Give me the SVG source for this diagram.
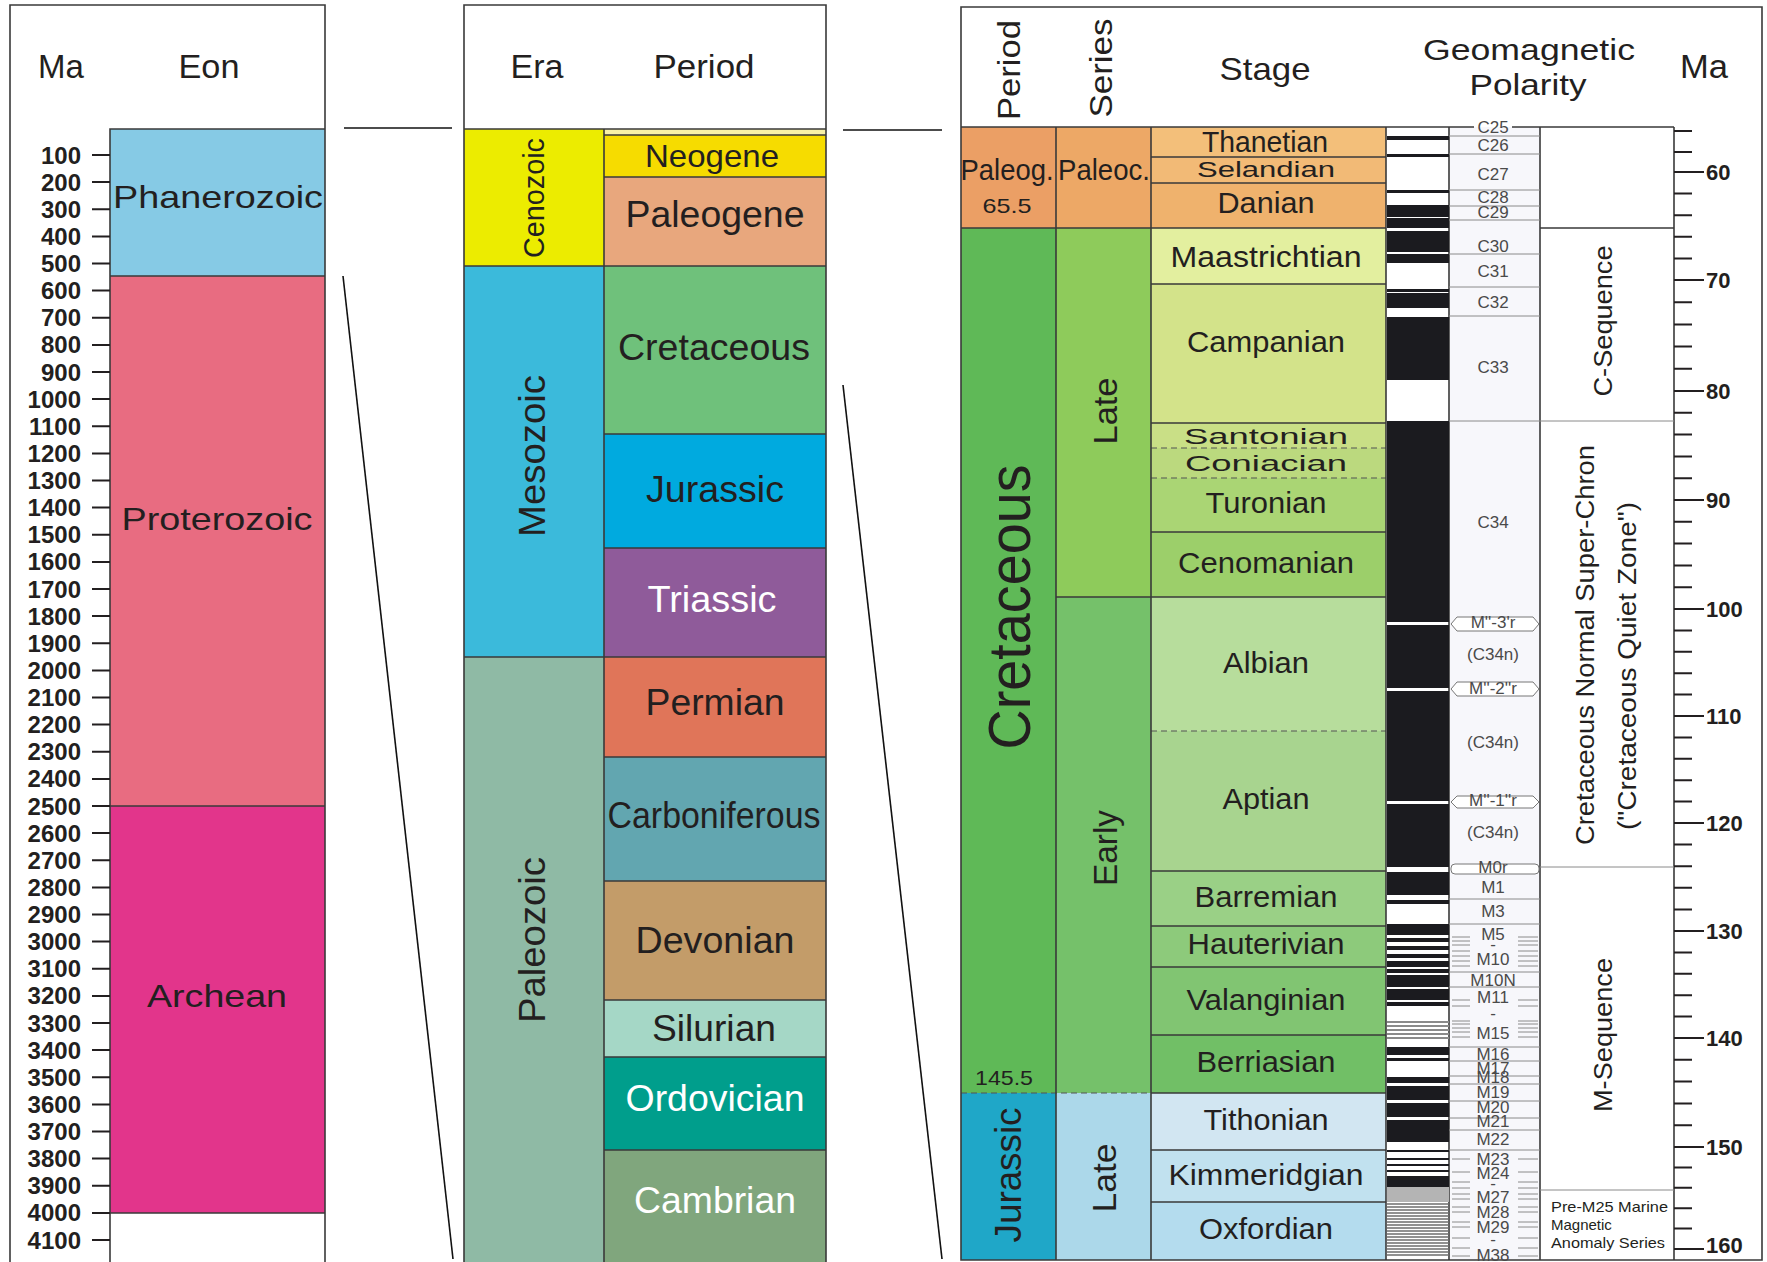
<svg xmlns="http://www.w3.org/2000/svg" width="1767" height="1262" viewBox="0 0 1767 1262">
<style>
.t{font-family:"Liberation Sans",Arial,Helvetica,sans-serif;fill:#231f20}
.wt{font-family:"Liberation Sans",Arial,Helvetica,sans-serif;fill:#ffffff}
.ln{stroke:#3a3a3a;stroke-width:1.6;fill:none}
.cb{stroke:#3a3a3a;stroke-width:1.3}
.dash{stroke:#555;stroke-width:1.2;stroke-dasharray:6 4;fill:none}
.tk{stroke:#231f20;stroke-width:2}
.num{font-family:"Liberation Sans",Arial,sans-serif;font-weight:bold;fill:#231f20;font-size:24px;text-anchor:end}
.ma{font-family:"Liberation Sans",Arial,sans-serif;font-weight:bold;fill:#231f20;font-size:22px}
.ch{font-family:"Liberation Sans",Arial,sans-serif;fill:#4a4a4a;font-size:17px;text-anchor:middle}
.cl{stroke:#8a8a8a;stroke-width:1;fill:none}
.blk{fill:#1b1b1f}
.gry{fill:#8a8a8a}
.con{stroke:#111;stroke-width:1.6;fill:none}
</style>

<!-- ================= PANEL 1 : EON ================= -->
<g id="eon-panel">
  <rect x="110" y="129" width="215" height="147" fill="#86cae5"/>
  <rect x="110" y="276" width="215" height="530" fill="#e86c81"/>
  <rect x="110" y="806" width="215" height="407" fill="#e2358b"/>
  <path class="ln" d="M10,1262 V5 H325 V1262"/>
  <path class="ln" d="M110,1262 V129 H325 M110,276 H325 M110,806 H325 M110,1213 H325"/>
  <text class="t" x="61" y="78" font-size="33" text-anchor="middle">Ma</text>
  <text class="t" x="209" y="78" font-size="33" text-anchor="middle" textLength="61" lengthAdjust="spacingAndGlyphs">Eon</text>
  <g id="node-phanerozoic"><text class="t" x="218" y="208" font-size="32" text-anchor="middle" textLength="210" lengthAdjust="spacingAndGlyphs">Phanerozoic</text></g>
  <g id="node-proterozoic"><text class="t" x="217" y="530" font-size="32" text-anchor="middle" textLength="191" lengthAdjust="spacingAndGlyphs">Proterozoic</text></g>
  <g id="node-archean"><text class="t" x="217" y="1007" font-size="32" text-anchor="middle" textLength="140" lengthAdjust="spacingAndGlyphs">Archean</text></g>
  <g id="eon-ticks">
    <path class="tk" d="M92,155H110M92,182.1H110M92,209.3H110M92,236.4H110M92,263.5H110M92,290.6H110M92,317.8H110M92,344.9H110M92,372H110M92,399.1H110M92,426.3H110M92,453.4H110M92,480.5H110M92,507.6H110M92,534.8H110M92,561.9H110M92,589H110M92,616.1H110M92,643.3H110M92,670.4H110M92,697.5H110M92,724.6H110M92,751.8H110M92,778.9H110M92,806H110M92,833.1H110M92,860.3H110M92,887.4H110M92,914.5H110M92,941.6H110M92,968.8H110M92,995.9H110M92,1023H110M92,1050.1H110M92,1077.3H110M92,1104.4H110M92,1131.5H110M92,1158.6H110M92,1185.8H110M92,1212.9H110M92,1240H110"/>
    <text class="num" x="81" y="163.5">100</text>
    <text class="num" x="81" y="190.6">200</text>
    <text class="num" x="81" y="217.8">300</text>
    <text class="num" x="81" y="244.9">400</text>
    <text class="num" x="81" y="272">500</text>
    <text class="num" x="81" y="299.1">600</text>
    <text class="num" x="81" y="326.3">700</text>
    <text class="num" x="81" y="353.4">800</text>
    <text class="num" x="81" y="380.5">900</text>
    <text class="num" x="81" y="407.6">1000</text>
    <text class="num" x="81" y="434.8">1100</text>
    <text class="num" x="81" y="461.9">1200</text>
    <text class="num" x="81" y="489">1300</text>
    <text class="num" x="81" y="516.1">1400</text>
    <text class="num" x="81" y="543.3">1500</text>
    <text class="num" x="81" y="570.4">1600</text>
    <text class="num" x="81" y="597.5">1700</text>
    <text class="num" x="81" y="624.6">1800</text>
    <text class="num" x="81" y="651.8">1900</text>
    <text class="num" x="81" y="678.9">2000</text>
    <text class="num" x="81" y="706">2100</text>
    <text class="num" x="81" y="733.1">2200</text>
    <text class="num" x="81" y="760.3">2300</text>
    <text class="num" x="81" y="787.4">2400</text>
    <text class="num" x="81" y="814.5">2500</text>
    <text class="num" x="81" y="841.6">2600</text>
    <text class="num" x="81" y="868.8">2700</text>
    <text class="num" x="81" y="895.9">2800</text>
    <text class="num" x="81" y="923">2900</text>
    <text class="num" x="81" y="950.1">3000</text>
    <text class="num" x="81" y="977.3">3100</text>
    <text class="num" x="81" y="1004.4">3200</text>
    <text class="num" x="81" y="1031.5">3300</text>
    <text class="num" x="81" y="1058.6">3400</text>
    <text class="num" x="81" y="1085.8">3500</text>
    <text class="num" x="81" y="1112.9">3600</text>
    <text class="num" x="81" y="1140">3700</text>
    <text class="num" x="81" y="1167.1">3800</text>
    <text class="num" x="81" y="1194.3">3900</text>
    <text class="num" x="81" y="1221.4">4000</text>
    <text class="num" x="81" y="1248.5">4100</text>
  </g>
</g>

<!-- ================= PANEL 2 : ERA / PERIOD ================= -->
<g id="era-panel">
  <rect x="464" y="129" width="140" height="137" fill="#ecec00"/>
  <rect x="464" y="266" width="140" height="391" fill="#3bbadb"/>
  <rect x="464" y="657" width="140" height="605" fill="#8fbaa5"/>
  <rect x="604" y="129" width="222" height="6" fill="#f8f1a6"/>
  <rect x="604" y="135" width="222" height="42" fill="#f6dc00"/>
  <rect x="604" y="177" width="222" height="89" fill="#e8a77d"/>
  <rect x="604" y="266" width="222" height="168" fill="#6fc17b"/>
  <rect x="604" y="434" width="222" height="114" fill="#00aadf"/>
  <rect x="604" y="548" width="222" height="109" fill="#8f5b9a"/>
  <rect x="604" y="657" width="222" height="100" fill="#e07559"/>
  <rect x="604" y="757" width="222" height="124" fill="#62a6b0"/>
  <rect x="604" y="881" width="222" height="119" fill="#c39c69"/>
  <rect x="604" y="1000" width="222" height="57" fill="#a5d7c6"/>
  <rect x="604" y="1057" width="222" height="93" fill="#009e8c"/>
  <rect x="604" y="1150" width="222" height="112" fill="#80a67d"/>
  <path class="ln" d="M464,1262 V5 H826 V1262 M464,129 H826 M604,129 V1262"/>
  <path class="cb" d="M604,135H826M604,177H826M464,266H826M604,434H826M604,548H826M464,657H826M604,757H826M604,881H826M604,1000H826M604,1057H826M604,1150H826"/>
  <text class="t" x="537" y="78" font-size="34" text-anchor="middle" textLength="53" lengthAdjust="spacingAndGlyphs">Era</text>
  <text class="t" x="704" y="78" font-size="34" text-anchor="middle" textLength="101" lengthAdjust="spacingAndGlyphs">Period</text>
  <g id="node-cenozoic"><text class="t" transform="translate(544,198) rotate(-90)" font-size="30" text-anchor="middle" textLength="120" lengthAdjust="spacingAndGlyphs">Cenozoic</text></g>
  <g id="node-mesozoic"><text class="t" transform="translate(545,456) rotate(-90)" font-size="37" text-anchor="middle" textLength="162" lengthAdjust="spacingAndGlyphs">Mesozoic</text></g>
  <g id="node-paleozoic"><text class="t" transform="translate(545,940) rotate(-90)" font-size="37" text-anchor="middle" textLength="166" lengthAdjust="spacingAndGlyphs">Paleozoic</text></g>
  <g id="node-neogene"><text class="t" x="712" y="167" font-size="32" text-anchor="middle" textLength="134" lengthAdjust="spacingAndGlyphs">Neogene</text></g>
  <g id="node-paleogene"><text class="t" x="715" y="227" font-size="37" text-anchor="middle" textLength="179" lengthAdjust="spacingAndGlyphs">Paleogene</text></g>
  <g id="node-cretaceous"><text class="t" x="714" y="360" font-size="37" text-anchor="middle" textLength="192" lengthAdjust="spacingAndGlyphs">Cretaceous</text></g>
  <g id="node-jurassic"><text class="t" x="715" y="502" font-size="37" text-anchor="middle" textLength="138" lengthAdjust="spacingAndGlyphs">Jurassic</text></g>
  <g id="node-triassic"><text class="wt" x="712" y="612" font-size="37" text-anchor="middle" textLength="129" lengthAdjust="spacingAndGlyphs">Triassic</text></g>
  <g id="node-permian"><text class="t" x="715" y="715" font-size="37" text-anchor="middle" textLength="139" lengthAdjust="spacingAndGlyphs">Permian</text></g>
  <g id="node-carboniferous"><text class="t" x="714" y="828" font-size="37" text-anchor="middle" textLength="213" lengthAdjust="spacingAndGlyphs">Carboniferous</text></g>
  <g id="node-devonian"><text class="t" x="715" y="953" font-size="37" text-anchor="middle" textLength="159" lengthAdjust="spacingAndGlyphs">Devonian</text></g>
  <g id="node-silurian"><text class="t" x="714" y="1041" font-size="37" text-anchor="middle" textLength="124" lengthAdjust="spacingAndGlyphs">Silurian</text></g>
  <g id="node-ordovician"><text class="wt" x="715" y="1111" font-size="37" text-anchor="middle" textLength="179" lengthAdjust="spacingAndGlyphs">Ordovician</text></g>
  <g id="node-cambrian"><text class="wt" x="715" y="1213" font-size="37" text-anchor="middle" textLength="162" lengthAdjust="spacingAndGlyphs">Cambrian</text></g>
</g>

<!-- ================= PANEL 3 : DETAIL ================= -->
<g id="detail-panel">
  <!-- period column -->
  <rect x="961" y="127" width="95" height="101" fill="#eb9f65"/>
  <rect x="961" y="228" width="95" height="865" fill="#5fb957"/>
  <rect x="961" y="1093" width="95" height="167" fill="#1fa7c8"/>
  <!-- series column -->
  <rect x="1056" y="127" width="95" height="101" fill="#eda866"/>
  <rect x="1056" y="228" width="95" height="369" fill="#8ecb5b"/>
  <rect x="1056" y="597" width="95" height="496" fill="#75c16a"/>
  <rect x="1056" y="1093" width="95" height="167" fill="#acd8ea"/>
  <!-- stage column -->
  <rect x="1151" y="127" width="235" height="30" fill="#f3bf7a"/>
  <rect x="1151" y="157" width="235" height="26" fill="#f2ba76"/>
  <rect x="1151" y="183" width="235" height="45" fill="#efb26d"/>
  <rect x="1151" y="228" width="235" height="56" fill="#e3ef9f"/>
  <rect x="1151" y="284" width="235" height="139" fill="#d3e38a"/>
  <rect x="1151" y="423" width="235" height="25" fill="#c9df86"/>
  <rect x="1151" y="448" width="235" height="30" fill="#bbd97e"/>
  <rect x="1151" y="478" width="235" height="54" fill="#aad574"/>
  <rect x="1151" y="532" width="235" height="65" fill="#9ccf6a"/>
  <rect x="1151" y="597" width="235" height="134" fill="#b7dd9c"/>
  <rect x="1151" y="731" width="235" height="140" fill="#a8d48f"/>
  <rect x="1151" y="871" width="235" height="55" fill="#9ad086"/>
  <rect x="1151" y="926" width="235" height="41" fill="#8dca7b"/>
  <rect x="1151" y="967" width="235" height="68" fill="#81c572"/>
  <rect x="1151" y="1035" width="235" height="58" fill="#71bf66"/>
  <rect x="1151" y="1093" width="235" height="57" fill="#d2e6f2"/>
  <rect x="1151" y="1150" width="235" height="52" fill="#c1e1ef"/>
  <rect x="1151" y="1202" width="235" height="58" fill="#b4dcee"/>
  <!-- polarity & chron columns -->
  <rect x="1386" y="127" width="63" height="1133" fill="#ffffff"/>
  <rect x="1449" y="127" width="91" height="1133" fill="#f7f7fb"/>
  <rect x="1540" y="127" width="134" height="1133" fill="#ffffff"/>

  <!-- stage borders -->
  <path class="cb" d="M1151,157H1386M1151,183H1386M961,228H1386M1151,284H1386M1151,423H1386M1151,532H1386M1056,597H1386M1151,871H1386M1151,926H1386M1151,967H1386M1151,1035H1386M1151,1150H1386M1151,1202H1386"/>
  <path class="dash" d="M1151,448H1386M1151,478H1386M1151,731H1386M961,1093H1151"/>
  <path class="cb" d="M1151,1093H1386"/>
  <path class="ln" d="M961,1260 V7 H1762 V1260 Z M961,127 H1449 M1056,127 V1260 M1151,127 V1260 M1386,127 V1260 M1449,127 V1260 M1540,127 V1260 M1674,127 V1260"/>
  <path class="ln" d="M1449,127 H1474 M1512,127 H1674 M1540,228 H1674"/>
  <path class="cl" d="M1449,421H1674M1540,867H1674M1540,1190H1674"/>

  <!-- header texts -->
  <text class="t" transform="translate(1020,70) rotate(-90)" font-size="32" text-anchor="middle" textLength="100" lengthAdjust="spacingAndGlyphs">Period</text>
  <text class="t" transform="translate(1112,68) rotate(-90)" font-size="32" text-anchor="middle" textLength="99" lengthAdjust="spacingAndGlyphs">Series</text>
  <text class="t" x="1265" y="80" font-size="32" text-anchor="middle" textLength="91" lengthAdjust="spacingAndGlyphs">Stage</text>
  <text class="t" x="1529" y="60" font-size="29" text-anchor="middle" textLength="212" lengthAdjust="spacingAndGlyphs">Geomagnetic</text>
  <text class="t" x="1528" y="95" font-size="29" text-anchor="middle" textLength="117" lengthAdjust="spacingAndGlyphs">Polarity</text>
  <text class="t" x="1704" y="78" font-size="33" text-anchor="middle" textLength="48" lengthAdjust="spacingAndGlyphs">Ma</text>

  <!-- period / series labels -->
  <g id="node-paleog"><text class="t" x="1007" y="180" font-size="30" text-anchor="middle" textLength="93" lengthAdjust="spacingAndGlyphs">Paleog.</text>
  <text class="t" x="1007" y="213" font-size="21" text-anchor="middle" textLength="49" lengthAdjust="spacingAndGlyphs">65.5</text></g>
  <g id="node-paleoc"><text class="t" x="1104" y="180" font-size="30" text-anchor="middle" textLength="92" lengthAdjust="spacingAndGlyphs">Paleoc.</text></g>
  <g id="node-cretaceous-detail"><text class="t" transform="translate(1030,607) rotate(-90)" font-size="60" text-anchor="middle" textLength="285" lengthAdjust="spacingAndGlyphs">Cretaceous</text>
  <text class="t" x="1004" y="1085" font-size="21" text-anchor="middle" textLength="58" lengthAdjust="spacingAndGlyphs">145.5</text></g>
  <g id="node-jurassic-detail"><text class="t" transform="translate(1021,1175) rotate(-90)" font-size="37" text-anchor="middle" textLength="135" lengthAdjust="spacingAndGlyphs">Jurassic</text></g>
  <g id="node-late-cret"><text class="t" transform="translate(1117,411) rotate(-90)" font-size="34" text-anchor="middle" textLength="67" lengthAdjust="spacingAndGlyphs">Late</text></g>
  <g id="node-early-cret"><text class="t" transform="translate(1117,848) rotate(-90)" font-size="34" text-anchor="middle" textLength="76" lengthAdjust="spacingAndGlyphs">Early</text></g>
  <g id="node-late-jur"><text class="t" transform="translate(1116,1178) rotate(-90)" font-size="34" text-anchor="middle" textLength="69" lengthAdjust="spacingAndGlyphs">Late</text></g>

  <!-- stage labels -->
  <g id="stages">
    <text class="t" x="1265" y="152" font-size="29" text-anchor="middle" textLength="126" lengthAdjust="spacingAndGlyphs">Thanetian</text>
    <text class="t" x="1266" y="177" font-size="22" text-anchor="middle" textLength="138" lengthAdjust="spacingAndGlyphs">Selandian</text>
    <text class="t" x="1266" y="213" font-size="29" text-anchor="middle" textLength="97" lengthAdjust="spacingAndGlyphs">Danian</text>
    <text class="t" x="1266" y="267" font-size="30" text-anchor="middle" textLength="191" lengthAdjust="spacingAndGlyphs">Maastrichtian</text>
    <text class="t" x="1266" y="352" font-size="30" text-anchor="middle" textLength="158" lengthAdjust="spacingAndGlyphs">Campanian</text>
    <text class="t" x="1266" y="444" font-size="22" text-anchor="middle" textLength="164" lengthAdjust="spacingAndGlyphs">Santonian</text>
    <text class="t" x="1266" y="471" font-size="22" text-anchor="middle" textLength="162" lengthAdjust="spacingAndGlyphs">Coniacian</text>
    <text class="t" x="1266" y="513" font-size="30" text-anchor="middle" textLength="121" lengthAdjust="spacingAndGlyphs">Turonian</text>
    <text class="t" x="1266" y="573" font-size="30" text-anchor="middle" textLength="176" lengthAdjust="spacingAndGlyphs">Cenomanian</text>
    <text class="t" x="1266" y="673" font-size="30" text-anchor="middle" textLength="86" lengthAdjust="spacingAndGlyphs">Albian</text>
    <text class="t" x="1266" y="809" font-size="30" text-anchor="middle" textLength="87" lengthAdjust="spacingAndGlyphs">Aptian</text>
    <text class="t" x="1266" y="907" font-size="30" text-anchor="middle" textLength="143" lengthAdjust="spacingAndGlyphs">Barremian</text>
    <text class="t" x="1266" y="954" font-size="30" text-anchor="middle" textLength="157" lengthAdjust="spacingAndGlyphs">Hauterivian</text>
    <text class="t" x="1266" y="1010" font-size="30" text-anchor="middle" textLength="159" lengthAdjust="spacingAndGlyphs">Valanginian</text>
    <text class="t" x="1266" y="1072" font-size="30" text-anchor="middle" textLength="139" lengthAdjust="spacingAndGlyphs">Berriasian</text>
    <text class="t" x="1266" y="1130" font-size="30" text-anchor="middle" textLength="125" lengthAdjust="spacingAndGlyphs">Tithonian</text>
    <text class="t" x="1266" y="1185" font-size="30" text-anchor="middle" textLength="195" lengthAdjust="spacingAndGlyphs">Kimmeridgian</text>
    <text class="t" x="1266" y="1239" font-size="30" text-anchor="middle" textLength="134" lengthAdjust="spacingAndGlyphs">Oxfordian</text>
  </g>

  <!-- polarity bars -->
  <g id="polarity">
    <rect class="blk" x="1387" y="136" width="62" height="4"/>
    <rect class="blk" x="1387" y="154" width="62" height="3"/>
    <rect class="blk" x="1387" y="190" width="62" height="3"/>
    <rect class="blk" x="1387" y="205" width="62" height="12"/>
    <rect class="blk" x="1387" y="218" width="62" height="10"/>
    <rect class="blk" x="1387" y="231" width="62" height="21"/>
    <rect class="blk" x="1387" y="254" width="62" height="9"/>
    <rect class="blk" x="1387" y="289" width="62" height="3"/>
    <rect class="blk" x="1387" y="293" width="62" height="15"/>
    <rect class="blk" x="1387" y="317" width="62" height="63"/>
    <rect class="blk" x="1387" y="421" width="62" height="201"/>
    <rect class="blk" x="1387" y="625" width="62" height="63"/>
    <rect class="blk" x="1387" y="691" width="62" height="110"/>
    <rect class="blk" x="1387" y="804" width="62" height="63"/>
    <rect class="blk" x="1387" y="872" width="62" height="23"/>
    <rect class="blk" x="1387" y="900" width="62" height="4"/>
    <rect class="blk" x="1387" y="924" width="62" height="11"/>
    <rect class="blk" x="1387" y="938" width="62" height="4"/>
    <rect class="blk" x="1387" y="946" width="62" height="4"/>
    <rect class="blk" x="1387" y="954" width="62" height="4"/>
    <rect class="blk" x="1387" y="961" width="62" height="6"/>
    <rect class="blk" x="1387" y="969" width="62" height="4"/>
    <rect class="blk" x="1387" y="975" width="62" height="12"/>
    <rect class="blk" x="1387" y="989" width="62" height="11"/>
    <rect class="blk" x="1387" y="1002" width="62" height="4"/>
    <rect class="gry" x="1387" y="1021" width="62" height="2"/>
    <rect class="gry" x="1387" y="1025" width="62" height="2"/>
    <rect class="gry" x="1387" y="1029" width="62" height="2"/>
    <rect class="gry" x="1387" y="1033" width="62" height="2"/>
    <rect class="gry" x="1387" y="1037" width="62" height="2"/>
    <rect class="blk" x="1387" y="1047" width="62" height="8"/>
    <rect class="blk" x="1387" y="1058" width="62" height="3"/>
    <rect class="blk" x="1387" y="1077" width="62" height="6"/>
    <rect class="blk" x="1387" y="1086" width="62" height="14"/>
    <rect class="blk" x="1387" y="1103" width="62" height="14"/>
    <rect class="blk" x="1387" y="1120" width="62" height="22"/>
    <rect class="blk" x="1387" y="1150" width="62" height="2"/>
    <rect class="blk" x="1387" y="1158" width="62" height="2"/>
    <rect class="blk" x="1387" y="1164" width="62" height="2"/>
    <rect class="blk" x="1387" y="1170" width="62" height="2"/>
    <rect class="blk" x="1387" y="1176" width="62" height="11"/>
    <rect x="1387" y="1187" width="62" height="15" fill="#b4b4b4"/>
    <path d="M1387,1204H1449M1387,1207H1449M1387,1210H1449M1387,1213H1449M1387,1216H1449M1387,1219H1449M1387,1222H1449M1387,1225H1449M1387,1228H1449M1387,1231H1449M1387,1234H1449M1387,1237H1449M1387,1240H1449M1387,1243H1449M1387,1246H1449M1387,1249H1449M1387,1252H1449M1387,1255H1449" stroke="#6e6e6e" stroke-width="1.5"/>
  </g>

  <!-- chron labels -->
  <g id="chrons">
    <path class="cl" d="M1449,136H1540M1449,154H1540M1449,190H1540M1449,206H1540M1449,220H1540M1449,254H1540M1449,287H1540M1449,316H1540"/>
    <path class="cl" d="M1449,899H1540M1449,924H1540M1449,972H1540M1449,987H1540M1449,1047H1540M1449,1061H1540M1449,1076H1540M1449,1084H1540M1449,1101H1540M1449,1118H1540M1449,1130H1540M1449,1150H1540"/>
    <path class="cl" d="M1452,937H1470M1452,941H1470M1452,945H1470M1452,951H1470M1452,956H1470M1452,961H1470M1452,966H1470M1518,937H1538M1518,941H1538M1518,945H1538M1518,951H1538M1518,956H1538M1518,961H1538M1518,966H1538"/>
    <path class="cl" d="M1452,1000H1470M1452,1006H1470M1452,1021H1470M1452,1024H1470M1452,1028H1470M1452,1032H1470M1452,1037H1470M1518,1000H1538M1518,1006H1538M1518,1021H1538M1518,1024H1538M1518,1028H1538M1518,1032H1538M1518,1037H1538"/>
    <path class="cl" d="M1452,1159H1470M1452,1172H1470M1452,1182H1470M1452,1188H1470M1452,1194H1470M1452,1199H1470M1452,1207H1470M1452,1212H1470M1452,1222H1470M1452,1227H1470M1452,1238H1470M1452,1248H1470M1452,1256H1470M1518,1159H1538M1518,1172H1538M1518,1182H1538M1518,1188H1538M1518,1194H1538M1518,1199H1538M1518,1207H1538M1518,1212H1538M1518,1222H1538M1518,1227H1538M1518,1238H1538M1518,1248H1538M1518,1256H1538"/>
    <path d="M1451,624 L1457,617 H1533 L1539,624 L1533,631 H1457 Z M1451,689 L1457,682 H1533 L1539,689 L1533,696 H1457 Z M1451,802 L1457,796 H1533 L1539,802 L1533,808 H1457 Z" fill="#ffffff" stroke="#777" stroke-width="1"/>
    <rect x="1451" y="864" width="88" height="10" rx="4" fill="#ffffff" stroke="#777" stroke-width="1"/>
    <text class="ch" x="1493" y="133">C25</text>
    <text class="ch" x="1493" y="151">C26</text>
    <text class="ch" x="1493" y="180">C27</text>
    <text class="ch" x="1493" y="203">C28</text>
    <text class="ch" x="1493" y="218">C29</text>
    <text class="ch" x="1493" y="252">C30</text>
    <text class="ch" x="1493" y="277">C31</text>
    <text class="ch" x="1493" y="308">C32</text>
    <text class="ch" x="1493" y="373">C33</text>
    <text class="ch" x="1493" y="528">C34</text>
    <text class="ch" x="1493" y="628" font-size="10">M''-3'r</text>
    <text class="ch" x="1493" y="660">(C34n)</text>
    <text class="ch" x="1493" y="694" font-size="13">M''-2''r</text>
    <text class="ch" x="1493" y="748">(C34n)</text>
    <text class="ch" x="1493" y="806" font-size="10">M''-1''r</text>
    <text class="ch" x="1493" y="838">(C34n)</text>
    <text class="ch" x="1493" y="873" font-size="10">M0r</text>
    <text class="ch" x="1493" y="893">M1</text>
    <text class="ch" x="1493" y="917">M3</text>
    <text class="ch" x="1493" y="940">M5</text>
    <text class="ch" x="1493" y="950" font-size="12">-</text>
    <text class="ch" x="1493" y="965">M10</text>
    <text class="ch" x="1493" y="986">M10N</text>
    <text class="ch" x="1493" y="1003">M11</text>
    <text class="ch" x="1493" y="1019">-</text>
    <text class="ch" x="1493" y="1039">M15</text>
    <text class="ch" x="1493" y="1060">M16</text>
    <text class="ch" x="1493" y="1074">M17</text>
    <text class="ch" x="1493" y="1083" font-size="10">M18</text>
    <text class="ch" x="1493" y="1098">M19</text>
    <text class="ch" x="1493" y="1113">M20</text>
    <text class="ch" x="1493" y="1127" font-size="10">M21</text>
    <text class="ch" x="1493" y="1145">M22</text>
    <text class="ch" x="1493" y="1165">M23</text>
    <text class="ch" x="1493" y="1179">M24</text>
    <text class="ch" x="1493" y="1189">-</text>
    <text class="ch" x="1493" y="1203">M27</text>
    <text class="ch" x="1493" y="1218">M28</text>
    <text class="ch" x="1493" y="1233">M29</text>
    <text class="ch" x="1493" y="1245">-</text>
    <text class="ch" x="1493" y="1261">M38</text>
  </g>

  <!-- sequence labels -->
  <g id="node-c-sequence"><text class="t" transform="translate(1612,321) rotate(-90)" font-size="25" text-anchor="middle" textLength="151" lengthAdjust="spacingAndGlyphs">C-Sequence</text></g>
  <g id="node-superchron">
    <text class="t" transform="translate(1594,645) rotate(-90)" font-size="25" text-anchor="middle" textLength="400" lengthAdjust="spacingAndGlyphs">Cretaceous Normal Super-Chron</text>
    <text class="t" transform="translate(1636,666) rotate(-90)" font-size="25" text-anchor="middle" textLength="328" lengthAdjust="spacingAndGlyphs">("Cretaceous Quiet Zone")</text>
  </g>
  <g id="node-m-sequence"><text class="t" transform="translate(1612,1035) rotate(-90)" font-size="25" text-anchor="middle" textLength="154" lengthAdjust="spacingAndGlyphs">M-Sequence</text></g>
  <g id="node-pre-m25">
    <text class="t" x="1551" y="1212" font-size="15" fill="#333" textLength="117" lengthAdjust="spacingAndGlyphs">Pre-M25 Marine</text>
    <text class="t" x="1551" y="1230" font-size="15" fill="#333">Magnetic</text>
    <text class="t" x="1551" y="1248" font-size="15" fill="#333" textLength="114" lengthAdjust="spacingAndGlyphs">Anomaly Series</text>
  </g>

  <!-- Ma axis -->
  <g id="ma-axis">
    <path class="tk" d="M1674,131H1692M1674,152H1692M1674,193.6H1692M1674,215.2H1692M1674,236.8H1692M1674,258.4H1692M1674,302.2H1692M1674,324.4H1692M1674,346.6H1692M1674,368.8H1692M1674,412.8H1692M1674,434.6H1692M1674,456.4H1692M1674,478.2H1692M1674,521.8H1692M1674,543.6H1692M1674,565.4H1692M1674,587.2H1692M1674,630.4H1692M1674,651.8H1692M1674,673.2H1692M1674,694.6H1692M1674,737.4H1692M1674,758.8H1692M1674,780.2H1692M1674,801.6H1692M1674,844.6H1692M1674,866.2H1692M1674,887.8H1692M1674,909.4H1692M1674,952.4H1692M1674,973.8H1692M1674,995.2H1692M1674,1016.6H1692M1674,1059.8H1692M1674,1081.6H1692M1674,1103.4H1692M1674,1125.2H1692M1674,1167.4H1692M1674,1187.8H1692M1674,1208.2H1692M1674,1228.6H1692"/>
    <path class="tk" d="M1674,172H1704M1674,280H1704M1674,391H1704M1674,500H1704M1674,609H1704M1674,716H1704M1674,823H1704M1674,931H1704M1674,1038H1704M1674,1147H1704M1674,1249H1704"/>
    <text class="ma" x="1706" y="180">60</text>
    <text class="ma" x="1706" y="288">70</text>
    <text class="ma" x="1706" y="399">80</text>
    <text class="ma" x="1706" y="508">90</text>
    <text class="ma" x="1706" y="617">100</text>
    <text class="ma" x="1706" y="724">110</text>
    <text class="ma" x="1706" y="831">120</text>
    <text class="ma" x="1706" y="939">130</text>
    <text class="ma" x="1706" y="1046">140</text>
    <text class="ma" x="1706" y="1155">150</text>
    <text class="ma" x="1706" y="1253">160</text>
  </g>
</g>

<!-- ================= CONNECTORS ================= -->
<g id="connectors">
  <line class="con" x1="344" y1="128" x2="452" y2="128"/>
  <line class="con" x1="343" y1="276" x2="453" y2="1259"/>
  <line class="con" x1="843" y1="130" x2="942" y2="130"/>
  <line class="con" x1="843" y1="385" x2="942" y2="1259"/>
</g>
</svg>
